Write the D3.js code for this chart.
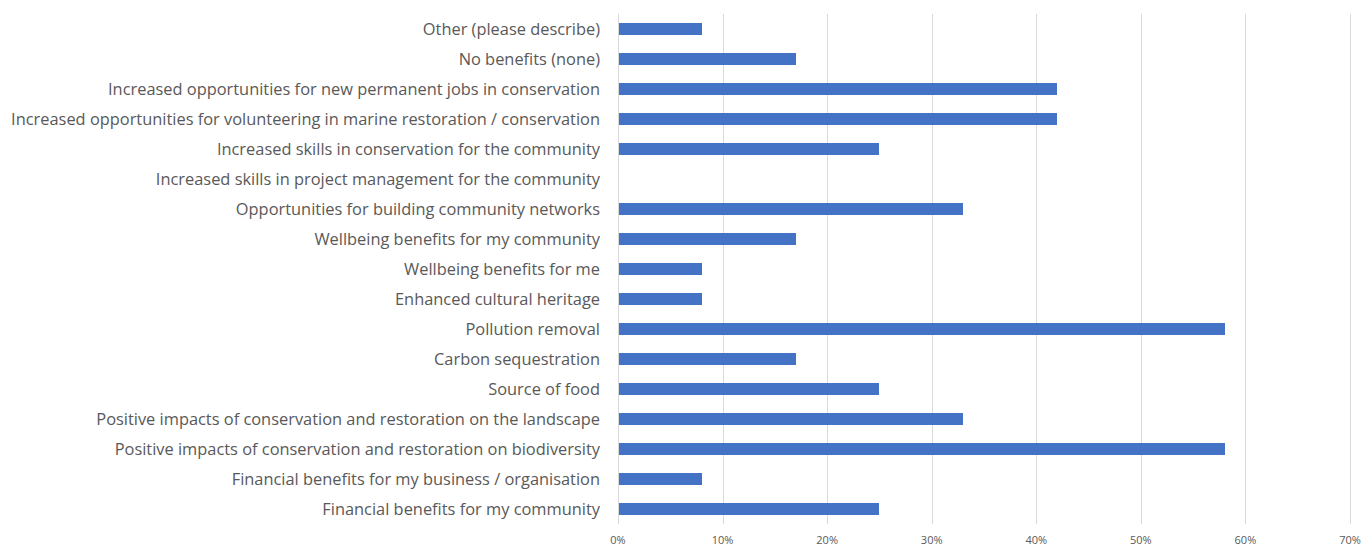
<!DOCTYPE html>
<html>
<head>
<script src="https://d3js.org/d3.v7.min.js"></script>
<style>
	body, html {
		margin: 0;
		padding: 0;
		background: #fff;
	}
	.cat-label {
		font-family: "Open Sans", sans-serif;
		font-size: 16.4px;
		fill: #595959;
		text-anchor: end;
	}
	.tick-label {
		font-family: "Open Sans", sans-serif;
		font-size: 11px;
		fill: #595959;
		text-anchor: middle;
	}
	.grid line {
		stroke: #d9d9d9;
		stroke-width: 1;
	}
	.bar {
		fill: #4472C4;
		shape-rendering: crispEdges;
	}
</style>
</head>
<body>
<script>
	// categories listed top to bottom
	var categories = [
		"Other (please describe)",
		"No benefits (none)",
		"Increased opportunities for new permanent jobs in conservation",
		"Increased opportunities for volunteering in marine restoration / conservation",
		"Increased skills in conservation for the community",
		"Increased skills in project management for the community",
		"Opportunities for building community networks",
		"Wellbeing benefits for my community",
		"Wellbeing benefits for me",
		"Enhanced cultural heritage",
		"Pollution removal",
		"Carbon sequestration",
		"Source of food",
		"Positive impacts of conservation and restoration on the landscape",
		"Positive impacts of conservation and restoration on biodiversity",
		"Financial benefits for my business / organisation",
		"Financial benefits for my community"
	];
	var values = [8, 17, 42, 42, 25, 0, 33, 17, 8, 8, 58, 17, 25, 33, 58, 8, 25];
	var tickValues = [0, 10, 20, 30, 40, 50, 60, 70];

	var w = 1368, h = 547;
	var margin = {top: 14, bottom: 23, left: 618, right: 18};

	var x = d3.scaleLinear()
		.domain([0, 70])
		.range([margin.left, w - margin.right]);

	var y = d3.scaleBand()
		.domain(categories)
		.range([margin.top, h - margin.bottom])
		.paddingInner(0.63)
		.paddingOuter(0.315);

	var svg = d3.select("body").append("svg")
		.attr("width", w)
		.attr("height", h);

	svg.append("g")
		.attr("class", "grid")
		.selectAll("line")
		.data(tickValues)
		.enter().append("line")
		.attr("x1", function(d){ return Math.round(x(d)) + 0.5; })
		.attr("x2", function(d){ return Math.round(x(d)) + 0.5; })
		.attr("y1", margin.top)
		.attr("y2", h - margin.bottom);

	svg.selectAll(".bar")
		.data(values)
		.enter().append("rect")
		.attr("class", "bar")
		.attr("x", x(0) + 1)
		.attr("y", function(d, i){ return y(categories[i]); })
		.attr("width", function(d){ return Math.max(0, x(d) - x(0) - 1); })
		.attr("height", y.bandwidth());

	svg.selectAll(".cat-label")
		.data(categories)
		.enter().append("text")
		.attr("class", "cat-label")
		.attr("x", margin.left - 18)
		.attr("y", function(d){ return y(d) + y.bandwidth() / 2; })
		.attr("dy", "0.38em")
		.text(function(d){ return d; });

	svg.selectAll(".tick-label")
		.data(tickValues)
		.enter().append("text")
		.attr("class", "tick-label")
		.attr("x", function(d){ return x(d); })
		.attr("y", h - 3)
		.text(function(d){ return d + "%"; });
</script>
</body>
</html>
